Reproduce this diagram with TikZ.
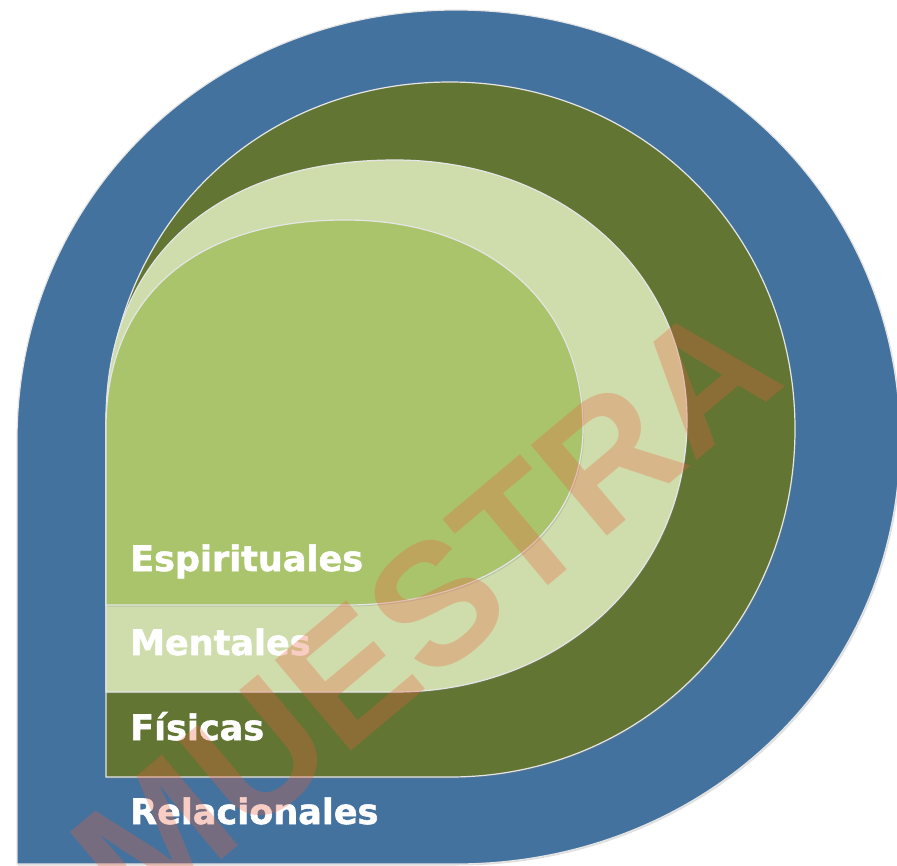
\documentclass[tikz,border=0pt]{standalone}
\usepackage{fontspec}
\newfontfamily\labfont{DejaVu Sans}[BoldFeatures={FakeBold=1.5}]
\newfontfamily\wmfont{Liberation Sans}
\usetikzlibrary{shadows}
\definecolor{cblue}{RGB}{67,114,158}
\definecolor{cdark}{RGB}{98,117,51}
\definecolor{cpale}{RGB}{207,221,172}
\definecolor{cinner}{RGB}{170,196,108}
\definecolor{cwm}{RGB}{235,95,60}
% #1 style, #2 L, #3 T, #4 R, #5 B, #6 cx, #7 cy, #8 k top-left, #9 k right
\newcommand\petal[9]{\path[#1] (#2,#5) -- (#2,#7)
  .. controls (#2,{#7-#8*(#7-#3)}) and ({#6-#8*(#6-#2)},#3) .. (#6,#3)
  .. controls ({#6+#9*(#4-#6)},#3) and (#4,{#7-#9*(#7-#3)}) .. (#4,#7)
  .. controls (#4,{#7+#9*(#5-#7)}) and ({#6+#9*(#4-#6)},#5) .. (#6,#5) -- cycle;}
\tikzset{
  band/.style={draw=white!90!black, line width=1.2pt,
    drop shadow={shadow xshift=1.2pt, shadow yshift=-1.5pt, opacity=0.25}},
  lab/.style={anchor=base west, inner sep=0pt, text=white,
    font=\labfont\bfseries\fontsize{35}{40}\selectfont},
  wm/.style={text=cwm, text opacity=0.3, inner sep=0pt,
    font=\wmfont\bfseries\fontsize{172}{172}\selectfont}
}
\begin{document}
\begin{tikzpicture}[x=1pt,y=-1pt]
\useasboundingbox (0,0) rectangle (897,865);
\clip (0,0) rectangle (897,865);
\fill[white] (0,0) rectangle (897,865);
\petal{band,fill=cblue}{17}{10}{900}{864}{456}{440}{0.56}{0.56}
\petal{band,fill=cdark}{106}{82}{795}{777}{450}{429}{0.57}{0.56}
\petal{band,fill=cpale}{106}{160}{687}{692}{395}{420}{0.62}{0.57}
\petal{band,fill=cinner}{106}{220}{583}{605}{345}{428}{0.63}{0.6}
\node[lab] (esp) at (130,571) {Espirituales};
\node[lab] (men) at (130,655) {Mentales};
\node[lab] (fis) at (130,740) {Físicas};
\node[lab] (rel) at (130,824) {Relacionales};
\node[wm, rotate=40] (wmk) at (425,612) {MUESTRA};
\end{tikzpicture}
\end{document}
